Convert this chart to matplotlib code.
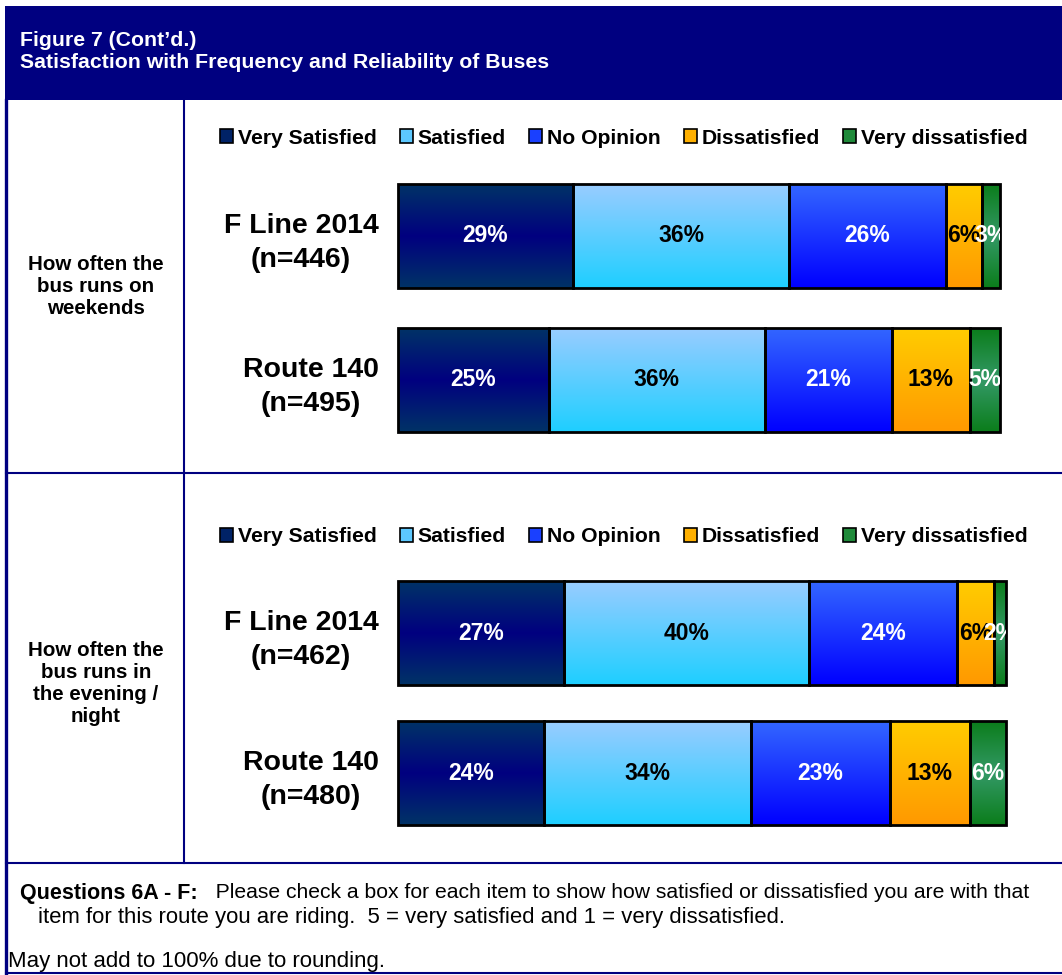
import matplotlib
matplotlib.use("Agg")
import matplotlib.pyplot as plt
import numpy as np
from matplotlib.colors import LinearSegmentedColormap
from matplotlib.patches import Patch, Rectangle

plt.rcParams['font.family'] = ['Liberation Sans', 'DejaVu Sans']

# data
categories = ["Very Satisfied", "Satisfied", "No Opinion", "Dissatisfied", "Very dissatisfied"]
questions = ["How often the\nbus runs on\nweekends",
             "How often the\nbus runs in\nthe evening /\nnight"]
weekend_groups = ["F Line 2014\n(n=446)", "Route 140\n(n=495)"]
weekend_fline = [29, 36, 26, 6, 3]
weekend_route140 = [25, 36, 21, 13, 5]
evening_groups = ["F Line 2014\n(n=462)", "Route 140\n(n=480)"]
evening_fline = [27, 40, 24, 6, 2]
evening_route140 = [24, 34, 23, 13, 6]

# gradient stops, top -> bottom
grads = [["#003366", "#000080", "#003366"],
         ["#99CCFF", "#1ECFFF"],
         ["#3366FF", "#0000FF"],
         ["#FFCC00", "#FF9900"],
         ["#0B7D1B", "#339966", "#0B7D1B"]]
legend_cols = ["#002266", "#5CC8FF", "#1A40FF", "#FFB000", "#1F8A3A"]
text_cols = ["white", "black", "white", "black", "white"]
NAVY = "#000080"

W, H = 1062, 975
fig = plt.figure(figsize=(W / 100, H / 100), dpi=100)

# background axes in pixel units for the frame and free text
bg = fig.add_axes([0, 0, 1, 1])
bg.set_xlim(0, W)
bg.set_ylim(H, 0)
bg.axis('off')

bg.add_patch(Rectangle((5, 6), W - 5, 94, color=NAVY, lw=0))
bg.plot([6, 6], [100, 974], color=NAVY, lw=2.4)
bg.plot([184, 184], [100, 863], color=NAVY, lw=1.5)
bg.plot([6, W], [473, 473], color=NAVY, lw=1.5)
bg.plot([6, W], [863, 863], color=NAVY, lw=1.5)
bg.plot([6, W], [973, 973], color=NAVY, lw=1.5)

bg.text(20, 40, "Figure 7 (Cont\u2019d.)", color='white', fontsize=15.3,
        fontweight='bold', va='center')
bg.text(20, 63, "Satisfaction with Frequency and Reliability of Buses",
        color='white', fontsize=15.3, fontweight='bold', va='center')

bg.text(96, 287, questions[0], ha='center', va='center', fontsize=14.8,
        fontweight='bold', linespacing=1.2)
bg.text(96, 684, questions[1], ha='center', va='center', fontsize=14.8,
        fontweight='bold', linespacing=1.2)

# footer
q = bg.text(20, 893, "Questions 6A - F:", fontsize=15.5, fontweight='bold', va='center')
bg.annotate("   Please check a box for each item to show how satisfied or dissatisfied you are with that",
            xy=(1, 0.5), xycoords=q, va='center', ha='left', fontsize=15.2)
bg.text(38, 918, "item for this route you are riding.  5 = very satisfied and 1 = very dissatisfied.",
        fontsize=15.9, va='center')
bg.text(8, 962, "May not add to 100% due to rounding.", fontsize=16, va='center')


def panel(rect, labels, rows, bar_h, legend_y):
    x0, y0, x1, y1 = rect
    ax = fig.add_axes([x0 / W, 1 - y1 / H, (x1 - x0) / W, (y1 - y0) / H])
    ypos = [1, 0]
    data = np.array(rows, dtype=float)
    pct = data / data.sum(axis=1, keepdims=True) * 100
    left = np.zeros(len(rows))
    grad = np.linspace(0, 1, 128).reshape(-1, 1)
    for j in range(len(categories)):
        bars = ax.barh(ypos, pct[:, j], left=left, height=bar_h, facecolor='none',
                       edgecolor='black', linewidth=2, zorder=3, clip_on=False)
        cmap = LinearSegmentedColormap.from_list('g%d' % j, grads[j])
        for bar, raw in zip(bars, data[:, j]):
            bx, by = bar.get_x(), bar.get_y()
            bw, bh = bar.get_width(), bar.get_height()
            im = ax.imshow(grad, cmap=cmap, extent=(bx, bx + bw, by, by + bh),
                           origin='upper', aspect='auto', zorder=2)
            im.set_clip_path(bar)
            ax.text(bx + bw / 2, by + bh / 2, "%d%%" % raw, ha='center', va='center',
                    color=text_cols[j], fontsize=16.5, fontweight='bold',
                    clip_on=True, zorder=4)
        left += pct[:, j]
    ax.set_xlim(0, 100)
    ax.set_ylim(-0.5, 1.5)
    ax.set_xticks([])
    ax.set_yticks(ypos, labels)
    ax.tick_params(axis='y', length=0, pad=14, labelsize=20.5)
    for t in ax.get_yticklabels():
        t.set_fontweight('bold')
        t.set_multialignment('center')
        t.set_linespacing(1.4)
    for s in ax.spines.values():
        s.set_visible(False)

    handles = [Patch(facecolor=c, edgecolor='black', linewidth=1.2, label=l)
               for c, l in zip(legend_cols, categories)]
    fig.legend(handles=handles, loc='center', bbox_to_anchor=(624 / W, 1 - legend_y / H),
               ncol=5, frameon=False, prop=dict(weight='bold', size=15.2),
               handlelength=0.6, handleheight=0.6, handletextpad=0.25,
               columnspacing=1.1, borderpad=0)
    return ax


panel((398, 164, 1000, 452), weekend_groups, [weekend_fline, weekend_route140], 0.72, 138)
panel((398, 563, 1006, 843), evening_groups, [evening_fline, evening_route140], 0.74, 537)

fig.savefig("out.png", dpi=100)
